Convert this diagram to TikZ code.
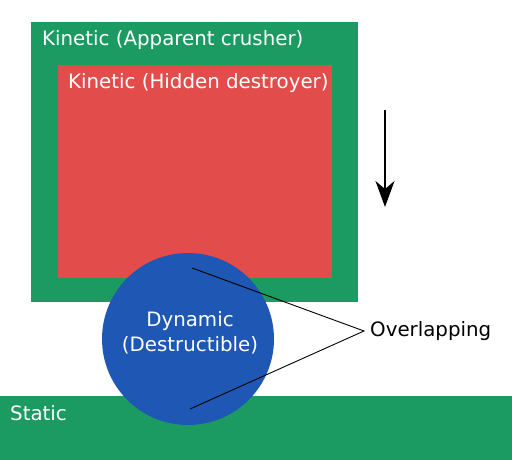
\documentclass[tikz,border=0pt]{standalone}
\usepackage{fontspec}
\setmainfont{DejaVu Sans}
\usetikzlibrary{arrows.meta,positioning}
\definecolor{kingreen}{RGB}{27,154,98}
\definecolor{hidred}{RGB}{226,76,75}
\definecolor{dynblue}{RGB}{30,88,180}
\tikzset{
  lbl/.style={text=white,font=\fontsize{19.8}{24}\selectfont,inner sep=0pt},
  body/.style={draw=none,inner sep=0pt,outer sep=0pt}
}

\begin{document}
\begin{tikzpicture}[x=1pt,y=-1pt]
\useasboundingbox (0,0) rectangle (512,460);

%kinetic crusher
\node[body,fill=kingreen,minimum width=327pt,minimum height=280pt,anchor=north west] (crusher) at (31,22) {};
\node[lbl,anchor=west] (crushertxt) at (42,40) {Kinetic (Apparent crusher)};

%hidden destroyer
\node[body,fill=hidred,minimum width=274pt,minimum height=213pt,anchor=north west] (destroyer) at (58,65) {};
\node[lbl,anchor=west] (destroyertxt) at (68,83) {Kinetic (Hidden destroyer)};

%static
\node[body,fill=kingreen,minimum width=512pt,minimum height=64pt,anchor=north west] (ground) at (0,396) {};
\node[lbl,anchor=west] (groundtxt) at (10,413) {Static};

%dynamic
\node[body,circle,fill=dynblue,minimum size=172pt] (ball) at (188,339) {};
\node[lbl,align=center,font=\fontsize{19.8}{25}\selectfont] (balltxt) at (190,333) {Dynamic\\(Destructible)};

%direction
\coordinate (mvtop) at (385,110);
\coordinate (mvbot) at (385,207);
\draw[-{Stealth[length=26pt,width=19pt,inset=8pt]},line width=1.5pt] (mvtop) -- (mvbot);

%overlapping
\node[inner sep=0pt,anchor=west,font=\fontsize{19.8}{24}\selectfont] (overlap) at (370,331) {Overlapping};
\coordinate (ovtop) at (192,268);
\coordinate (ovbot) at (190,409);
\draw[line width=0.9pt] (ovtop) -- ([xshift=-6pt]overlap.west) -- (ovbot);
\end{tikzpicture}
\end{document}
